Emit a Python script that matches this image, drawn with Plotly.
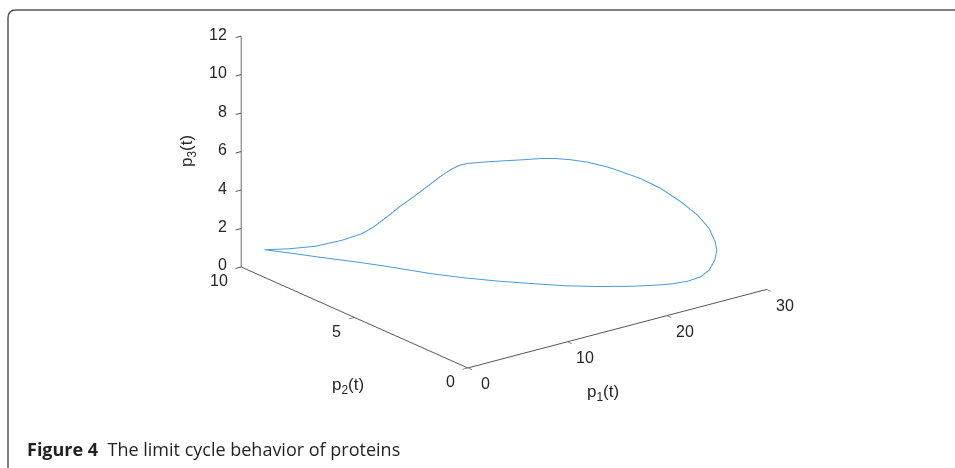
import plotly.graph_objects as go

# Limit cycle
p1 = [0.08, 1.40, 2.88, 4.36, 5.46, 6.10, 7.03, 7.58, 8.30, 9.03, 9.78, 10.33, 10.77,
      11.25, 12.17, 13.08, 14.20, 15.30, 16.02, 16.95, 17.88, 18.98, 19.70, 20.80, 21.92,
      23.02, 23.93, 24.57, 24.90, 25.00,
      24.80, 24.28, 23.54, 22.41, 21.05, 19.79, 18.09, 15.82, 13.71, 11.76, 9.91, 8.21,
      6.59, 4.46, 3.37, 2.09, 0.88, 0.08]
p2 = [9.00, 8.52, 7.99, 7.46, 7.06, 6.83, 6.50, 6.30, 6.03, 5.76, 5.50, 5.30, 5.13,
      4.97, 4.64, 4.30, 3.91, 3.51, 3.24, 2.91, 2.58, 2.18, 1.91, 1.51, 1.12,
      0.72, 0.38, 0.15, 0.03, 0.00,
      0.00, 0.02, 0.06, 0.15, 0.29, 0.47, 0.75, 1.22, 1.77, 2.38, 3.04, 3.77,
      4.53, 5.73, 6.43, 7.34, 8.29, 9.00]
p3 = [1.41, 1.53, 1.74, 2.13, 2.54, 2.92, 3.63, 4.08, 4.61, 5.18, 5.74, 6.12, 6.36,
      6.49, 6.61, 6.72, 6.83, 6.96, 7.01, 6.99, 6.91, 6.72, 6.53, 6.22, 5.76,
      5.13, 4.49, 3.83, 3.16, 2.72,
      2.23, 1.77, 1.51, 1.38, 1.35, 1.36, 1.39, 1.44, 1.48, 1.54, 1.57, 1.59,
      1.63, 1.70, 1.68, 1.60, 1.51, 1.41]

p1_ticks = [0, 10, 20, 30]
p2_ticks = [0, 5, 10]
p3_ticks = [0, 2, 4, 6, 8, 10, 12]

fig = go.Figure()
fig.add_trace(go.Scatter3d(x=p1, y=p2, z=p3, mode="lines",
                           line=dict(color="#4a9ad8", width=2),
                           hoverinfo="skip", showlegend=False))

axis_color = "#555555"
label_font = dict(family="Liberation Sans, Arial, sans-serif", size=16, color="#262626")
title_font = dict(family="Liberation Sans, Arial, sans-serif", size=17, color="#262626")
common = dict(showgrid=False, showbackground=False, showline=True, linecolor=axis_color,
              linewidth=2, ticks="outside", ticklen=7, tickcolor=axis_color, tickwidth=2,
              showticklabels=False, zeroline=False, showspikes=False, title=dict(text=""))

# tick labels as scene annotations anchored on the axes' own data positions
tick_annotations = (
    [dict(x=t, y=0, z=0, text=str(t), showarrow=False, xanchor="center", yanchor="middle",
          xshift=18, yshift=-16, font=label_font) for t in p1_ticks]
    + [dict(x=0, y=t, z=0, text=str(t), showarrow=False, xanchor="right", yanchor="middle",
            xshift=-11, yshift=-14, font=label_font) for t in p2_ticks]
    + [dict(x=0, y=10, z=t, text=str(t), showarrow=False, xanchor="right", yanchor="middle",
            xshift=-12, yshift=2, font=label_font) for t in p3_ticks]
)

# view direction (MATLAB-like az=-37.5, el=20) and look-at offset
view_dir = (-0.572, -0.745, 0.342)
dist = 2.0
ctr = (-0.153, -0.014, -0.286)

fig.update_layout(
    width=955, height=468,
    margin=dict(l=0, r=0, t=0, b=0),
    paper_bgcolor="white",
    scene=dict(
        domain=dict(x=[0, 1], y=[0, 1]),
        xaxis=dict(range=[0, 30], tickvals=p1_ticks, **common),
        yaxis=dict(range=[0, 10], tickvals=p2_ticks, **common),
        zaxis=dict(range=[0, 12], tickvals=p3_ticks, **common),
        aspectmode="manual",
        aspectratio=dict(x=1.61, y=1.59, z=1.05),
        camera=dict(eye=dict(x=ctr[0] + view_dir[0] * dist,
                             y=ctr[1] + view_dir[1] * dist,
                             z=ctr[2] + view_dir[2] * dist),
                    up=dict(x=0, y=0, z=1),
                    center=dict(x=ctr[0], y=ctr[1], z=ctr[2]),
                    projection=dict(type="orthographic")),
        annotations=tick_annotations,
    ),
    shapes=[dict(type="path", xref="paper", yref="paper",
                 path="M 0.00838,0 L 0.00838,0.96154 Q 0.00838,0.97863 0.01675,0.97863 L 1,0.97863",
                 line=dict(color="#555555", width=1.5))],
    annotations=[
        dict(text="<b>Figure 4</b>  The limit cycle behavior of proteins", xref="paper", yref="paper",
             x=25 / 955, y=1 - 449 / 468, xanchor="left", yanchor="middle", showarrow=False,
             font=dict(family="Open Sans, sans-serif", size=18, color="#231f20")),
        dict(text="p<sub>1</sub>(t)", xref="paper", yref="paper", x=603 / 955, y=1 - 393 / 468,
             xanchor="center", yanchor="middle", showarrow=False, font=title_font),
        dict(text="p<sub>2</sub>(t)", xref="paper", yref="paper", x=348 / 955, y=1 - 386 / 468,
             xanchor="center", yanchor="middle", showarrow=False, font=title_font),
        dict(text="p<sub>3</sub>(t)", xref="paper", yref="paper", x=188 / 955, y=1 - 151 / 468,
             xanchor="center", yanchor="middle", showarrow=False, textangle=-90, font=title_font),
    ],
)

fig.write_html("out.html")
